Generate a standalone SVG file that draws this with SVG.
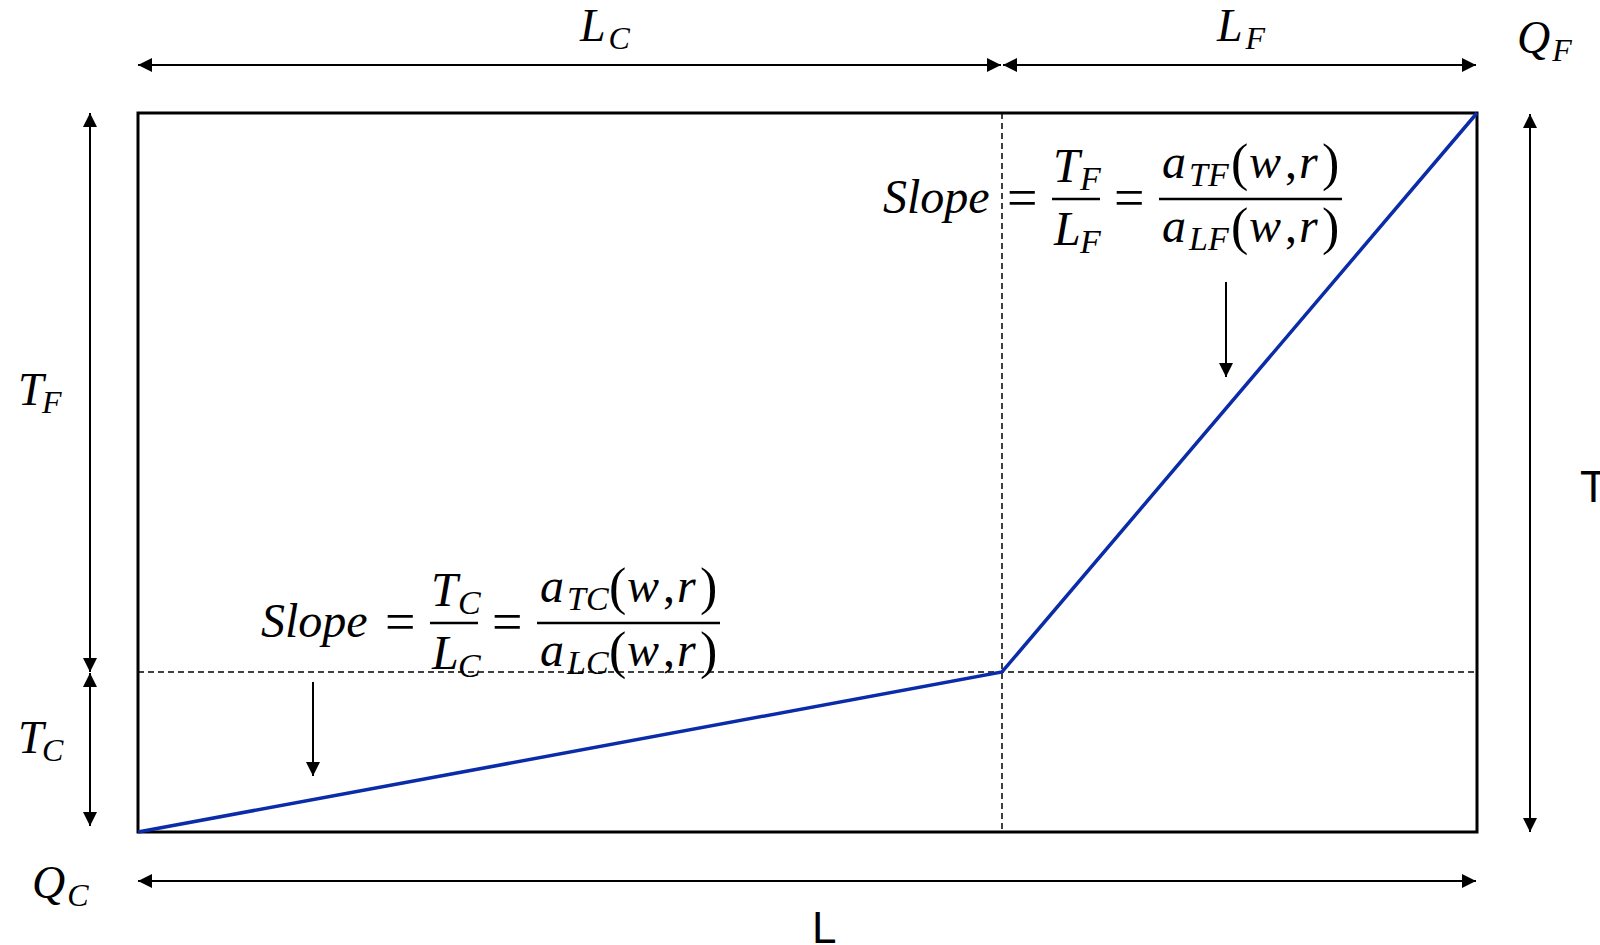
<svg xmlns="http://www.w3.org/2000/svg" width="1600" height="945" viewBox="0 0 1600 945">
<defs>
<marker id="ah" viewBox="0 0 14 14" markerWidth="14" markerHeight="14" refX="14" refY="7" orient="auto-start-reverse" markerUnits="userSpaceOnUse">
<path d="M0,0 L14,7 L0,14 z" fill="#000"/>
</marker>
<style>
.dim{stroke:#000;stroke-width:2;fill:none;marker-start:url(#ah);marker-end:url(#ah)}
.dash{stroke:#000;stroke-width:1.5;stroke-dasharray:6 4;fill:none}
.m{font-family:"Liberation Serif","DejaVu Serif",serif;font-style:italic;fill:#000}
.u{font-family:"Liberation Serif","DejaVu Serif",serif;font-style:normal;fill:#000}
.s{font-family:"Liberation Sans",Arial,sans-serif;fill:#000}
.bar{stroke:#000;stroke-width:2.5}
</style>
</defs>
<rect width="1600" height="945" fill="#fff"/>
<g id="frame">
<line class="dash" x1="1002" y1="113" x2="1002" y2="832"/>
<line class="dash" x1="138" y1="672" x2="1477" y2="672"/>
<rect x="138" y="113" width="1339" height="719" fill="none" stroke="#000" stroke-width="3"/>
</g>
<g id="curve">
<polyline points="138,832 1002,672 1477,113" fill="none" stroke="#0B2CA8" stroke-width="3.5"/>
</g>
<g id="connectors">
<line class="dim" x1="138" y1="65" x2="1001" y2="65"/>
<line class="dim" x1="1003" y1="65" x2="1476" y2="65"/>
<line class="dim" x1="138" y1="881" x2="1476" y2="881"/>
<line class="dim" x1="90" y1="113" x2="90" y2="672"/>
<line class="dim" x1="90" y1="673" x2="90" y2="826"/>
<line class="dim" x1="1530" y1="114" x2="1530" y2="832"/>
<line x1="1226" y1="282" x2="1226" y2="377" stroke="#000" stroke-width="2" marker-end="url(#ah)"/>
<line x1="313" y1="682" x2="313" y2="776" stroke="#000" stroke-width="2" marker-end="url(#ah)"/>
</g>
<g id="labels">
<text class="m" font-size="46" x="580" y="41">L<tspan font-size="32" dx="3" dy="8">C</tspan></text>
<text class="m" font-size="46" x="1217" y="41">L<tspan font-size="32" dx="3" dy="8">F</tspan></text>
<text class="m" font-size="46" x="1517" y="53">Q<tspan font-size="32" dx="2" dy="8">F</tspan></text>
<text class="m" font-size="46" x="18" y="405">T<tspan font-size="32" x="42" dy="8">F</tspan></text>
<text class="m" font-size="46" x="18" y="753">T<tspan font-size="32" x="42" dy="8">C</tspan></text>
<text class="m" font-size="46" x="32" y="898">Q<tspan font-size="32" dx="2" dy="8">C</tspan></text>
<text class="s" font-size="44" x="1580" y="502">T</text>
<text class="s" font-size="44" x="812" y="943">L</text>
</g>
<g id="formulaF">
<text class="m" font-size="48" x="883" y="213">Slope</text>
<text class="u" font-size="54" x="1007" y="216">=</text>
<line class="bar" x1="1052" y1="199" x2="1100" y2="199"/>
<text class="m" font-size="48" x="1053" y="182">T<tspan font-size="34" x="1080" y="190">F</tspan></text>
<text class="m" font-size="48" x="1054" y="245">L<tspan font-size="34" x="1080" y="253">F</tspan></text>
<text class="u" font-size="54" x="1114" y="216">=</text>
<line class="bar" x1="1159" y1="199" x2="1342" y2="199"/>
<text class="m" font-size="48" y="178"><tspan x="1162">a</tspan><tspan font-size="34" x="1189" y="186">TF</tspan><tspan class="u" font-size="52" x="1231" y="180">(</tspan><tspan x="1249" y="178">w</tspan><tspan class="u" x="1285">,</tspan><tspan x="1299">r</tspan><tspan class="u" font-size="52" x="1322" y="180">)</tspan></text>
<text class="m" font-size="48" y="242"><tspan x="1162">a</tspan><tspan font-size="34" x="1189" y="250">LF</tspan><tspan class="u" font-size="52" x="1231" y="244">(</tspan><tspan x="1249" y="242">w</tspan><tspan class="u" x="1285">,</tspan><tspan x="1299">r</tspan><tspan class="u" font-size="52" x="1322" y="244">)</tspan></text>
</g>
<g id="formulaC" transform="translate(-622,424)">
<text class="m" font-size="48" x="883" y="213">Slope</text>
<text class="u" font-size="54" x="1007" y="216">=</text>
<line class="bar" x1="1052" y1="199" x2="1100" y2="199"/>
<text class="m" font-size="48" x="1053" y="182">T<tspan font-size="34" x="1080" y="190">C</tspan></text>
<text class="m" font-size="48" x="1054" y="245">L<tspan font-size="34" x="1080" y="253">C</tspan></text>
<text class="u" font-size="54" x="1114" y="216">=</text>
<line class="bar" x1="1159" y1="199" x2="1342" y2="199"/>
<text class="m" font-size="48" y="178"><tspan x="1162">a</tspan><tspan font-size="34" x="1189" y="186">TC</tspan><tspan class="u" font-size="52" x="1231" y="180">(</tspan><tspan x="1249" y="178">w</tspan><tspan class="u" x="1285">,</tspan><tspan x="1299">r</tspan><tspan class="u" font-size="52" x="1322" y="180">)</tspan></text>
<text class="m" font-size="48" y="242"><tspan x="1162">a</tspan><tspan font-size="34" x="1189" y="250">LC</tspan><tspan class="u" font-size="52" x="1231" y="244">(</tspan><tspan x="1249" y="242">w</tspan><tspan class="u" x="1285">,</tspan><tspan x="1299">r</tspan><tspan class="u" font-size="52" x="1322" y="244">)</tspan></text>
</g>
</svg>
